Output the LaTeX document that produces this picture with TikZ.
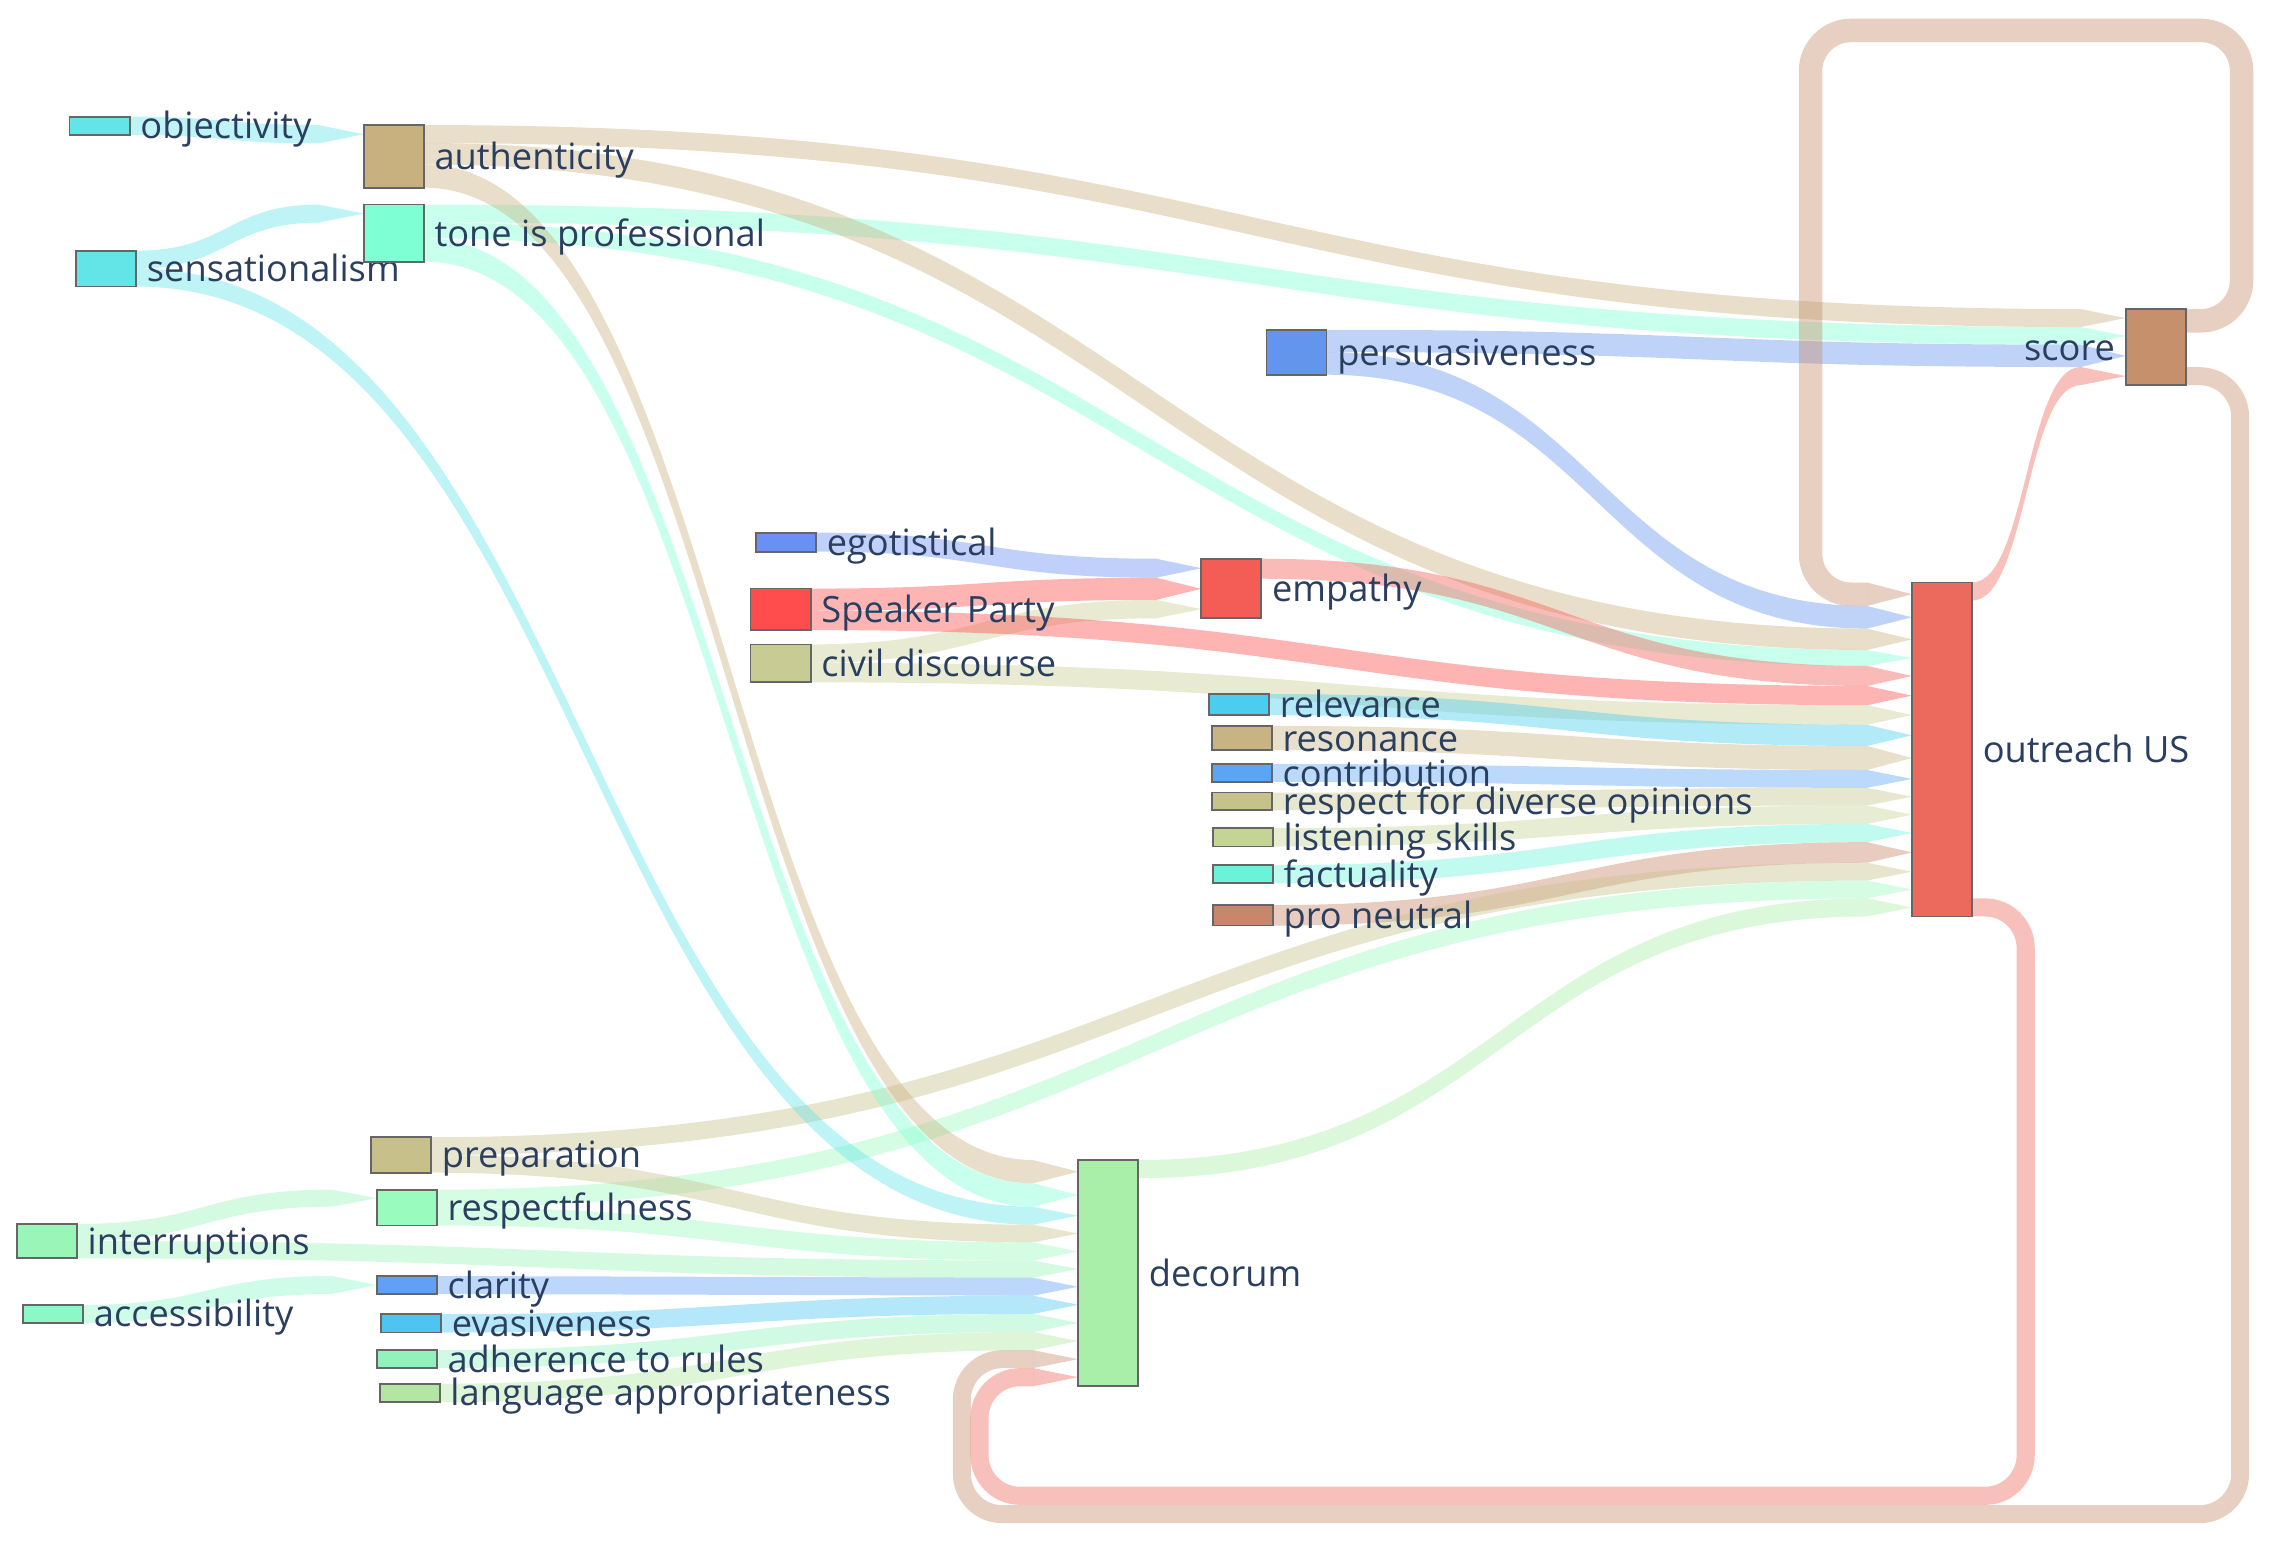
\documentclass[tikz,border=0pt]{standalone}
\usepackage{fontspec}
\setmainfont{Open Sans}
\usetikzlibrary{calc}
\pgfdeclarelayer{bg}
\pgfsetlayers{bg,main}
\definecolor{txtc}{HTML}{2A3F5F}
\definecolor{cobj}{HTML}{63E5E8}
\definecolor{csens}{HTML}{63E5E8}
\definecolor{cintr}{HTML}{99F5B8}
\definecolor{cacc}{HTML}{8CF8C8}
\definecolor{cauth}{HTML}{C8B17F}
\definecolor{ctone}{HTML}{7FFFD4}
\definecolor{cprep}{HTML}{C8C08A}
\definecolor{cresp}{HTML}{99FBBE}
\definecolor{cclar}{HTML}{62A0F8}
\definecolor{cevas}{HTML}{4DC5F0}
\definecolor{cadh}{HTML}{92F2BE}
\definecolor{clang}{HTML}{B3E6A2}
\definecolor{cego}{HTML}{6A90F5}
\definecolor{csp}{HTML}{FF4D4D}
\definecolor{cciv}{HTML}{C8CC94}
\definecolor{cemp}{HTML}{F45D55}
\definecolor{cpers}{HTML}{6495ED}
\definecolor{crel}{HTML}{4ACDEF}
\definecolor{creso}{HTML}{C8B483}
\definecolor{ccontr}{HTML}{5BA5F5}
\definecolor{crespect}{HTML}{C6C38A}
\definecolor{clis}{HTML}{C3D495}
\definecolor{cfact}{HTML}{6CF2D8}
\definecolor{cpro}{HTML}{C8866A}
\definecolor{cout}{HTML}{EB6A5D}
\definecolor{cscore}{HTML}{C6906C}
\definecolor{cdec}{HTML}{A9EFA9}
% flow band: source, offset, target, offset, width, colour
\newcommand{\flowband}[6]{%
  \fill[#6, fill opacity=.42] let
    \p1=($(#1.north east)+(0,#2)$),
    \p2=($(#3.north west)+(-31,#4)$),
    \p3=($(#1.north east)+(0,{#2+#5})$),
    \p4=($(#3.north west)+(-31,{#4+#5})$),
    \p5=($(#3.north west)+(0,{#4+0.5*#5})$)
  in (\p1) .. controls ({0.5*(\x1+\x2)},\y1) and ({0.5*(\x1+\x2)},\y2) .. (\p2)
     -- (\p5) -- (\p4)
     .. controls ({0.5*(\x1+\x2)},\y4) and ({0.5*(\x1+\x2)},\y3) .. (\p3) -- cycle;}
% arrow end of a loop: target, offset, width, colour
\newcommand{\looptip}[4]{%
  \fill[#4, fill opacity=.42] ($(#1.north west)+(-31,#2)$) -- ($(#1.north west)+(0,{#2+0.5*#3})$)
    -- ($(#1.north west)+(-31,{#2+#3})$) -- cycle;}

\begin{document}
\begin{tikzpicture}[x=0.5pt,y=-0.5pt,label distance=3.5pt,
    box/.style={draw=black!60, line width=.6pt, inner sep=0pt, outer sep=0pt,
      minimum width=20.75pt, anchor=north west},
    lbl/.style={text=txtc, inner sep=0pt, text height=.9em, text depth=0pt,
      font=\fontsize{12.5}{15}\selectfont},
    loopflow/.style={line width=#1, rounded corners=14pt, draw opacity=.42}]
  \useasboundingbox (0,0) rectangle (1568,1065.6);
  % first column
  \node[box, fill=cobj, minimum height=6.35pt, label={[lbl]right:objectivity}] (obj) at (48,80.5) {};
  \node[box, fill=csens, minimum height=12.4pt, label={[lbl]right:sensationalism}] (sens) at (52.5,173) {};
  \node[box, fill=cintr, minimum height=11.85pt, label={[lbl]right:interruptions}] (intr) at (11.6,844.7) {};
  \node[box, fill=cacc, minimum height=6.2pt, label={[lbl]right:accessibility}] (acc) at (15.9,900.6) {};
  % second column
  \node[box, fill=cauth, minimum height=21.6pt, label={[lbl]right:authenticity}] (auth) at (251,86.3) {};
  \node[box, fill=ctone, minimum height=19.7pt, label={[lbl]right:tone is professional}] (tone) at (251,141.2) {};
  \node[box, fill=cprep, minimum height=12.25pt, label={[lbl]right:preparation}] (prep) at (256,784.8) {};
  \node[box, fill=cresp, minimum height=12.4pt, label={[lbl]right:respectfulness}] (resp) at (260,821) {};
  \node[box, fill=cclar, minimum height=6.2pt, label={[lbl]right:clarity}] (clar) at (260,880.6) {};
  \node[box, fill=cevas, minimum height=6.3pt, label={[lbl]right:evasiveness}] (evas) at (263,907) {};
  \node[box, fill=cadh, minimum height=6.2pt, label={[lbl]right:adherence to rules}] (adh) at (260,931.7) {};
  \node[box, fill=clang, minimum height=6.3pt, label={[lbl]right:language appropriateness}] (lang) at (262,955) {};
  % middle
  \node[box, fill=cego, minimum height=6.55pt, label={[lbl]right:egotistical}] (ego) at (521.7,367.6) {};
  \node[box, fill=csp, minimum height=14.3pt, label={[lbl]right:Speaker Party}] (sp) at (518,406.2) {};
  \node[box, fill=cciv, minimum height=13.1pt, label={[lbl]right:civil discourse}] (civ) at (518,444.7) {};
  \node[box, fill=cemp, minimum height=20.55pt, label={[lbl]right:empathy}] (emp) at (829,385.6) {};
  \node[box, fill=cpers, minimum height=15.5pt, label={[lbl]right:persuasiveness}] (pers) at (874,227.6) {};
  \node[box, fill=crel, minimum height=7.3pt, label={[lbl]right:relevance}] (rel) at (834.3,479) {};
  \node[box, fill=creso, minimum height=8.3pt, label={[lbl]right:resonance}] (reso) at (836.2,501) {};
  \node[box, fill=ccontr, minimum height=6.15pt, label={[lbl]right:contribution}] (contr) at (836.2,527.3) {};
  \node[box, fill=crespect, minimum height=6.1pt, label={[lbl]right:respect for diverse opinions}] (respect) at (836.5,547) {};
  \node[box, fill=clis, minimum height=6.35pt, label={[lbl]right:listening skills}] (lis) at (837,571.5) {};
  \node[box, fill=cfact, minimum height=6.3pt, label={[lbl]right:factuality}] (fact) at (837,597) {};
  \node[box, fill=cpro, minimum height=7.1pt, label={[lbl]right:pro neutral}] (pro) at (837,624.6) {};
  % targets
  \node[box, fill=cdec, minimum height=78.05pt, label={[lbl]right:decorum}] (dec) at (744,800.6) {};
  \node[box, fill=cout, minimum height=115.25pt, label={[lbl]right:outreach US}] (out) at (1319.5,402) {};
  \node[box, fill=cscore, minimum height=26.25pt, label={[lbl]left:score}] (score) at (1467,213.3) {};

  \begin{pgfonlayer}{bg}
  % into authenticity, tone, empathy, respectfulness, clarity
  \flowband{obj}{0}{auth}{0}{12.7}{cobj}
  \flowband{sens}{0}{tone}{0}{12.4}{csens}
  \flowband{intr}{0}{resp}{0}{11.8}{cintr}
  \flowband{acc}{0}{clar}{0}{12.4}{cacc}
  \flowband{ego}{0}{emp}{0}{13.1}{cego}
  \flowband{sp}{0}{emp}{13.1}{15.3}{csp}
  \flowband{civ}{0}{emp}{28.4}{12.7}{cciv}
  % into score
  \flowband{auth}{0}{score}{0}{12.4}{cauth}
  \flowband{tone}{0}{score}{12.4}{12.2}{ctone}
  \flowband{pers}{0}{score}{24.6}{15.4}{cpers}
  \flowband{out}{0}{score}{40}{12.5}{cout}
  % into outreach US
  \flowband{pers}{15.4}{out}{16.2}{15.6}{cpers}
  \flowband{auth}{12.4}{out}{31.8}{14.8}{cauth}
  \flowband{tone}{12.2}{out}{46.6}{11}{ctone}
  \flowband{emp}{0}{out}{57.6}{13.8}{cemp}
  \flowband{sp}{15.3}{out}{71.4}{13.3}{csp}
  \flowband{civ}{12.7}{out}{84.7}{13.5}{cciv}
  \flowband{rel}{0}{out}{98.2}{14.6}{crel}
  \flowband{reso}{0}{out}{112.8}{16.6}{creso}
  \flowband{contr}{0}{out}{129.4}{12.3}{ccontr}
  \flowband{respect}{0}{out}{141.7}{12.2}{crespect}
  \flowband{lis}{0}{out}{153.9}{12.7}{clis}
  \flowband{fact}{0}{out}{166.6}{12.6}{cfact}
  \flowband{pro}{0}{out}{179.2}{14.2}{cpro}
  \flowband{prep}{0}{out}{193.4}{12.3}{cprep}
  \flowband{resp}{0}{out}{205.7}{12.3}{cresp}
  \flowband{dec}{0}{out}{218}{12.5}{cdec}
  % into decorum
  \flowband{auth}{27.2}{dec}{0}{16}{cauth}
  \flowband{tone}{23.2}{dec}{16}{16.2}{ctone}
  \flowband{sens}{12.4}{dec}{32.2}{12.4}{csens}
  \flowband{prep}{12.3}{dec}{44.6}{12.2}{cprep}
  \flowband{resp}{12.3}{dec}{56.8}{12.5}{cresp}
  \flowband{intr}{11.8}{dec}{69.3}{11.9}{cintr}
  \flowband{clar}{0}{dec}{81.2}{12.4}{cclar}
  \flowband{evas}{0}{dec}{93.6}{12.6}{cevas}
  \flowband{adh}{0}{dec}{106.2}{12.4}{cadh}
  \flowband{lang}{0}{dec}{118.6}{12.6}{clang}
  % loops back
  \draw[cscore, loopflow=8.1pt] ($(score.north east)+(0,8.1)$) -| (1547,21) -| (1249.5,410.1)
    -- ($(out.north west)+(-31,8.1)$);
  \looptip{out}{0}{16.2}{cscore}
  \draw[cscore, loopflow=6.2pt] ($(score.north east)+(0,46.3)$) -| (1546,1045) -| (663.8,938)
    -- ($(dec.north west)+(-31,137.4)$);
  \looptip{dec}{131.2}{12.4}{cscore}
  \draw[cout, loopflow=6.25pt] ($(out.north east)+(0,224.25)$) -| (1398,1032.3) -| (676,950.45)
    -- ($(dec.north west)+(-31,149.85)$);
  \looptip{dec}{143.6}{12.5}{cout}
  \end{pgfonlayer}
\end{tikzpicture}
\end{document}
